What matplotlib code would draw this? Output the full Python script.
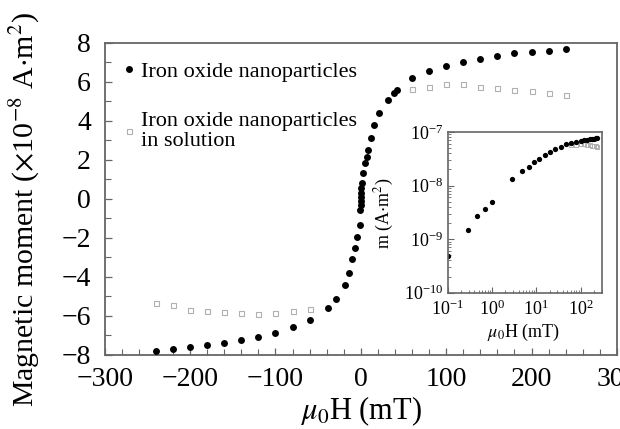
import matplotlib
matplotlib.use("Agg")
import matplotlib.pyplot as plt
from matplotlib.ticker import MultipleLocator, LogLocator, NullFormatter

plt.rcParams['font.family'] = ['Liberation Serif', 'DejaVu Serif']
plt.rcParams['mathtext.fontset'] = 'stix'

# Main hysteresis data (mT, x1e-8 A m^2)
H_np = [-240, -220, -200, -180, -160, -140, -120, -100, -80, -60, -39, -29, -19, -14,
        -10, -7, -4, -1.2, -0.5, -0.3, -0.1, 0.1, 0.3, 0.5, 0.8, 2.7, 4.7, 6.7, 8.6,
        11.4, 15.2, 21, 32, 39, 42, 60, 80, 100, 120, 140, 160, 180, 200, 220, 240]
M_np = [-7.78, -7.71, -7.61, -7.5, -7.37, -7.22, -7.08, -6.86, -6.58, -6.21, -5.6, -5.12,
        -4.41, -3.81, -3.09, -2.53, -1.93, -1.33, -0.55, -0.3, -0.1, 0.1, 0.3, 0.55, 0.82,
        1.32, 1.83, 2.17, 2.51, 3.11, 3.79, 4.39, 5.1, 5.45, 5.6, 6.22, 6.56, 6.84, 7.01,
        7.18, 7.33, 7.47, 7.54, 7.61, 7.69]

H_sol = [-240, -220, -200, -180, -160, -140, -120, -100, -80, -60,
         60, 80, 100, 120, 140, 160, 180, 200, 220, 240]
M_sol = [-5.35, -5.44, -5.69, -5.74, -5.78, -5.86, -5.89, -5.86, -5.76, -5.65,
         5.63, 5.76, 5.9, 5.9, 5.76, 5.68, 5.59, 5.55, 5.45, 5.33]

# Inset (log-log), A m^2
H_in = [0.1, 0.29, 0.47, 0.69, 0.98, 2.8, 4.8, 6.7, 8.8, 11.8, 15.8, 20.5, 27, 36, 47,
        60, 80, 100, 120, 140, 160, 180, 200, 220, 240]
m_in = [4.9e-10, 1.48e-9, 2.7e-9, 3.6e-9, 5.0e-9, 1.3e-8, 1.9e-8, 2.24e-8, 2.7e-8, 3.1e-8,
        3.7e-8, 4.2e-8, 4.8e-8, 5.3e-8, 6.0e-8, 6.2e-8, 6.5e-8, 6.8e-8, 7.0e-8, 7.2e-8,
        7.3e-8, 7.45e-8, 7.55e-8, 7.6e-8, 7.7e-8]
H_in_sol = [60, 80, 100, 120, 140, 160, 180, 200, 220, 240]
m_in_sol = [5.6e-8, 5.76e-8, 5.9e-8, 5.9e-8, 5.76e-8, 5.68e-8, 5.59e-8, 5.55e-8, 5.45e-8, 5.33e-8]

xticks = [-300, -200, -100, 0, 100, 200, 300]
yticks = [-8, -6, -4, -2, 0, 2, 4, 6, 8]

spine_c = '#666666'
sol_c = '#b0b0b0'

fig = plt.figure(figsize=(6.2, 4.29), dpi=100)
ax = fig.add_axes([0.169, 0.1725, 0.826, 0.7273])

ax.plot(H_sol, M_sol, ls='none', marker='s', ms=3.6, mfc='none', mec=sol_c, mew=0.8,
        label='Iron oxide nanoparticles\nin solution', zorder=2)
ax.plot(H_np, M_np, ls='none', marker='o', ms=5.0, color='black', mew=0,
        label='Iron oxide nanoparticles', zorder=3)

ax.set_xlim(-300, 300)
ax.set_ylim(-8, 8)
ax.set_xticks(xticks)
ax.set_yticks(yticks)
ax.set_xticklabels([f"{v}".replace('-', '\u2212') for v in xticks])
ax.set_yticklabels([f"{v}".replace('-', '\u2212') for v in yticks])
ax.xaxis.set_minor_locator(MultipleLocator(20))
ax.yaxis.set_minor_locator(MultipleLocator(1))
ax.tick_params(which='both', direction='in', color=spine_c, top=False, right=False)
ax.tick_params(which='major', length=5, width=0.9, labelsize=20)
ax.tick_params(which='minor', length=4, width=0.8)
ax.tick_params(axis='x', which='major', pad=9)
ax.tick_params(axis='y', which='major', pad=10)
for s in ax.spines.values():
    s.set_color(spine_c)
    s.set_linewidth(1.3)

ax.set_xlabel(r'$\mu_0$H (mT)', fontsize=22)
ax.set_ylabel(r'Magnetic moment ($\times$10$^{-8}$ A$\cdot$m$^{2}$)', fontsize=21.5)
ax.xaxis.set_label_coords(0.5, -0.125)
ax.yaxis.set_label_coords(-0.123, 0.465)

handles, labels = ax.get_legend_handles_labels()
leg = ax.legend(handles[::-1], labels[::-1], loc='upper left', frameon=False,
                fontsize=16, handlelength=0.5, handletextpad=0.25, labelspacing=1.35,
                borderaxespad=0.0, bbox_to_anchor=(0.02, 0.97))
for t in leg.get_texts():
    t.set_linespacing(1.1)

# Inset
ax2 = fig.add_axes([0.722, 0.3177, 0.2485, 0.3746])
ax2.plot(H_in_sol, m_in_sol, ls='none', marker='s', ms=3.0, mfc='none', mec=sol_c, mew=0.7)
ax2.plot(H_in, m_in, ls='none', marker='o', ms=3.8, color='black', mew=0)
ax2.set_xscale('log')
ax2.set_yscale('log')
ax2.set_xlim(0.1, 300)
ax2.set_ylim(1e-10, 1e-7)
ax2.xaxis.set_major_locator(LogLocator(base=10, numticks=10))
ax2.yaxis.set_major_locator(LogLocator(base=10, numticks=10))
ax2.xaxis.set_minor_locator(LogLocator(base=10, subs=range(2, 10), numticks=20))
ax2.yaxis.set_minor_locator(LogLocator(base=10, subs=range(2, 10), numticks=20))
ax2.xaxis.set_minor_formatter(NullFormatter())
ax2.yaxis.set_minor_formatter(NullFormatter())
ax2.tick_params(which='both', direction='in', color=spine_c, top=False, right=False)
ax2.tick_params(which='major', length=4, width=0.8, labelsize=13)
ax2.tick_params(which='minor', length=2.5, width=0.6)
ax2.tick_params(axis='y', which='major', pad=3)
ax2.tick_params(axis='x', which='major', pad=5)
for s in ax2.spines.values():
    s.set_color(spine_c)
    s.set_linewidth(1.2)
ax2.set_xlabel(r'$\mu_0$H (mT)', fontsize=13)
ax2.set_ylabel(r'm (A$\cdot$m$^{2}$)', fontsize=13)
ax2.xaxis.set_label_coords(0.495, -0.18)
ax2.yaxis.set_label_coords(-0.336, 0.496)

fig.savefig('out.png', dpi=100)
